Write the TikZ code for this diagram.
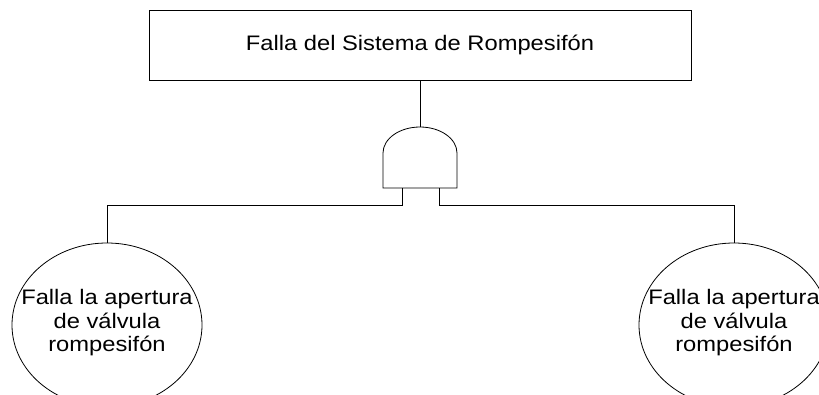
\documentclass[tikz,border=0pt]{standalone}
\usepackage{fontspec}
\setmainfont{Liberation Sans}[FakeStretch=1.13]
\usetikzlibrary{shapes.geometric}

\begin{document}
\begin{tikzpicture}[x=1pt,y=-1pt,line width=0.8pt,
	evento/.style={draw,rectangle,minimum width=542pt,minimum height=70pt,inner sep=0pt,font=\fontsize{21}{24}\selectfont},
	basico/.style={draw,ellipse,minimum width=190pt,minimum height=164pt,inner sep=0pt},
	texto/.style={align=center,inner sep=0pt,font=\fontsize{21}{23.5}\selectfont}]
		\useasboundingbox (0,0) rectangle (819,394);
		\clip (0,0) rectangle (819,394);
		% top event
		\node[evento] (falla) at (420,45) {Falla del Sistema de Rompesifón};
		% and gate
		\coordinate (puerta) at (420,127);
		\coordinate (entA) at (402,188);
		\coordinate (entB) at (439,188);
		\draw (383,188) -- (383,153) .. controls (383,138.6) and (399.6,127) .. (puerta) .. controls (440.4,127) and (457,138.6) .. (457,153) -- (457,188) -- cycle;
		% basic events
		\node[basico] (valvA) at (107,325) {};
		\node[basico] (valvB) at (734,325) {};
		\node[texto] (txtA) at (107,323) {Falla la apertura\\de válvula\\rompesifón};
		\node[texto] (txtB) at (734,323) {Falla la apertura\\de válvula\\rompesifón};
		% connectors
		\draw (falla.south) -- (puerta);
		\draw (entA) -- ++(0,17) -| (valvA.north);
		\draw (entB) -- ++(0,17) -| (valvB.north);
\end{tikzpicture}
\end{document}
